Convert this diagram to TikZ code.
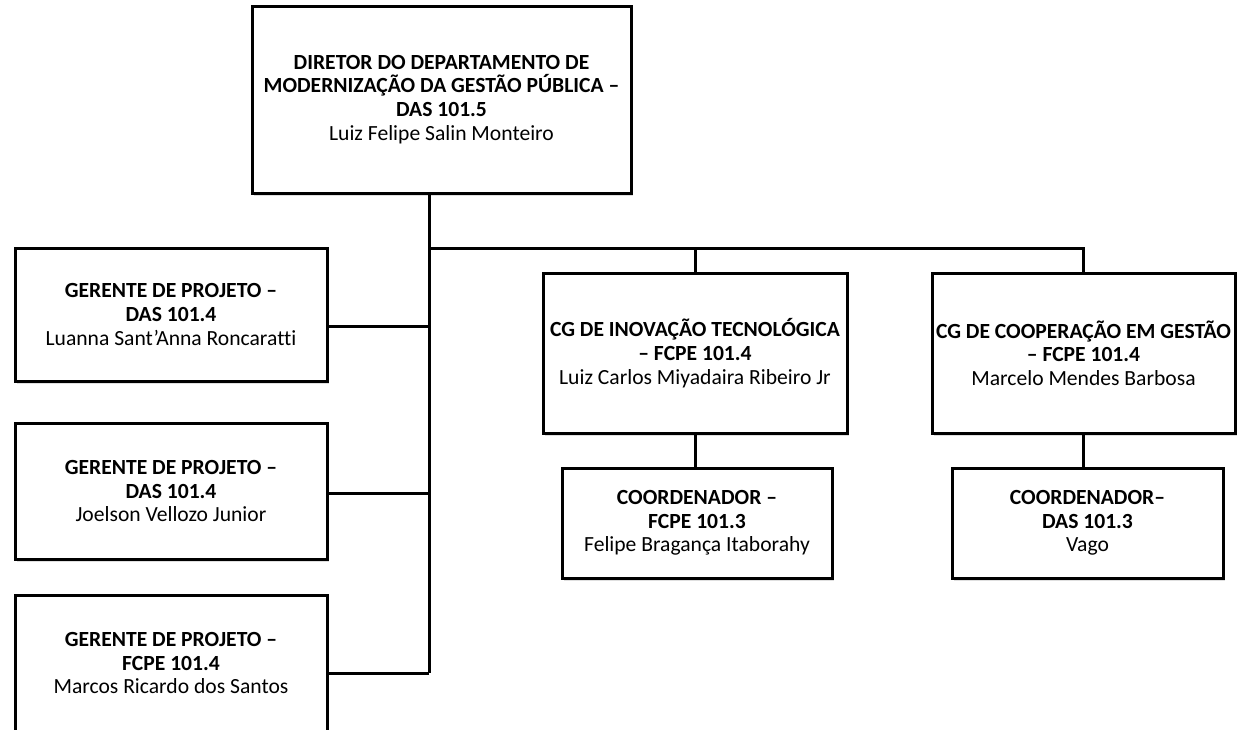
\documentclass[tikz,border=0pt]{standalone}
\usepackage{fontspec}
\setmainfont{Carlito}[Ligatures=NoCommon]
\usepackage{tikz}
\usetikzlibrary{shadows}
\tikzset{
    boxnode/.style = {align=center, inner sep=0pt, text centered},
    org_node/.style = {boxnode, rectangle, draw=black, fill=white, line width=3pt,
        font=\fontsize{21.6}{23.7}\selectfont,
        drop shadow={shadow xshift=2pt, shadow yshift=-2.5pt, opacity=0.25}},
    link/.style = {draw=black, line width=3pt}
}

\begin{document}
\begin{tikzpicture}
            [x=1pt, y=-1pt]
            \useasboundingbox (0,0) rectangle (1241,729);

            % director
            \node [org_node, minimum width=379pt, minimum height=187pt] (dir) at (441.5,99.5)
                {\textbf{DIRETOR DO DEPARTAMENTO DE}\\
                 \textbf{MODERNIZAÇÃO DA GESTÃO PÚBLICA –}\\
                 \textbf{DAS 101.5}\\
                 Luiz Felipe Salin Monteiro};

            % gerentes de projeto
            \node [org_node, minimum width=312pt, minimum height=133pt] (gp1) at (171,314.5)
                {\textbf{GERENTE DE PROJETO –}\\ \textbf{DAS 101.4}\\ Luanna Sant’Anna Roncaratti};
            \node [org_node, minimum width=312pt, minimum height=136pt] (gp2) at (171,491)
                {\textbf{GERENTE DE PROJETO –}\\ \textbf{DAS 101.4}\\ Joelson Vellozo Junior};
            \node [org_node, minimum width=312pt, minimum height=136pt] (gp3) at (171,663)
                {\textbf{GERENTE DE PROJETO –}\\ \textbf{FCPE 101.4}\\ Marcos Ricardo dos Santos};

            % coordenacoes gerais
            \node [org_node, minimum width=304pt, minimum height=160pt] (cgi) at (695,353)
                {\textbf{CG DE INOVAÇÃO TECNOLÓGICA}\\ \textbf{– FCPE 101.4}\\ Luiz Carlos Miyadaira Ribeiro Jr};
            \node [org_node, minimum width=303pt, minimum height=160pt] (cgc) at (1083.5,353)
                {\textbf{CG DE COOPERAÇÃO EM GESTÃO}\\ \textbf{– FCPE 101.4}\\ Marcelo Mendes Barbosa};

            % coordenadores
            \node [org_node, minimum width=270pt, minimum height=110pt] (co1) at (697,523)
                {\textbf{COORDENADOR –}\\ \textbf{FCPE 101.3}\\ Felipe Bragança Itaborahy};
            \node [org_node, minimum width=271pt, minimum height=110pt] (co2) at (1087.5,523)
                {\textbf{COORDENADOR–}\\ \textbf{DAS 101.3}\\ Vago};

            \coordinate (hub) at (429,248);
            \coordinate (foot) at (429,673);

            \draw [link] (dir.south -| hub) -- (foot);
            \draw [link] (hub) -| (cgc.north);
            \draw [link] (hub -| cgi.north) -- (cgi.north);
            \foreach \g/\s in {gp1/-11.5, gp2/-2, gp3/-10}
                \draw [link] ([yshift=\s pt]\g.east) -- ([yshift=\s pt]\g.east -| hub);
            \draw [link] (cgi.south) -- (co1.north -| cgi.south);
            \draw [link] (cgc.south) -- (co2.north -| cgc.south);
        \end{tikzpicture}
\end{document}
